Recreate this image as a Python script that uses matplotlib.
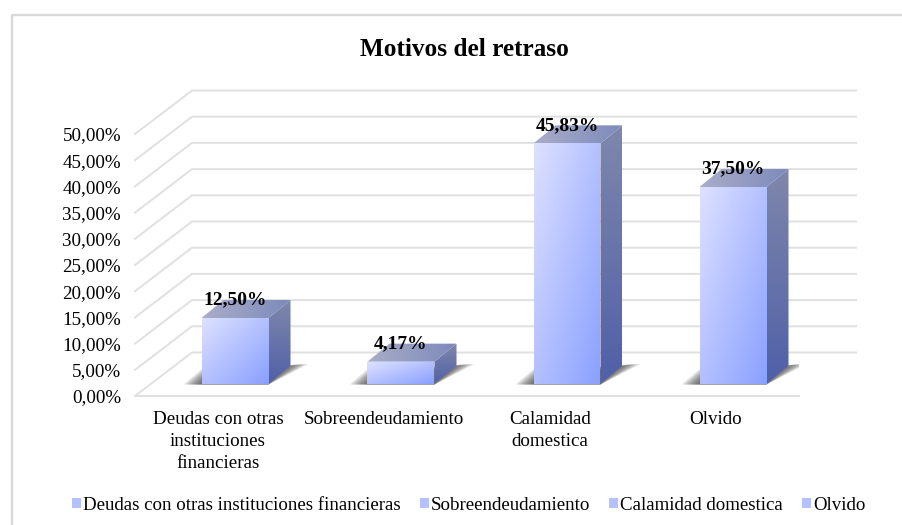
import numpy as np
import matplotlib
matplotlib.use("Agg")
import matplotlib.pyplot as plt
from matplotlib.colors import to_rgb
from matplotlib.patches import Patch, Polygon, Rectangle
from matplotlib.legend_handler import HandlerPatch

categories = ["Deudas con otras instituciones financieras", "Sobreendeudamiento",
              "Calamidad domestica", "Olvido"]
axis_labels = ["Deudas con otras\ninstituciones\nfinancieras", "Sobreendeudamiento",
               "Calamidad\ndomestica", "Olvido"]
values = [12.50, 4.17, 45.83, 37.50]
y_ticks = [0, 5, 10, 15, 20, 25, 30, 35, 40, 45, 50]

W, H = 903, 525
plt.rcParams["font.family"] = ["Liberation Serif", "DejaVu Serif"]
fig = plt.figure(figsize=(W / 100, H / 100), dpi=100, facecolor="white")

# plot area (front plane of the 3D box)
L, R, B, T = 135, 799, 396, 134
ax = fig.add_axes([L / W, 1 - B / H, (R - L) / W, (B - T) / H])
ax.set_xlim(-0.5, 3.5)
ax.set_ylim(0, 50)
ax.patch.set_alpha(0)
for s in ax.spines.values():
    s.set_visible(False)

PX = (3.5 + 0.5) / (R - L)      # data units per pixel, x
PY = 50 / (B - T)               # data units per pixel, y
GRID = "#e0e0e0"

# frame of the chart, open to the right and bottom edges of the picture
fig.add_artist(plt.Line2D([12.5 / W, 12.5 / W, 1], [0, 1 - 14.5 / H, 1 - 14.5 / H],
                          color="#d9d9d9", lw=1.7, transform=fig.transFigure))

# walls: diagonals on the side wall and lines on the back wall
wall_dx, wall_dy = 57 * PX, 43.5 * PY
x_left, x_right = ax.get_xlim()
for t in y_ticks:
    ax.plot([x_left, x_left + wall_dx, x_right + wall_dx], [t, t + wall_dy, t + wall_dy],
            color=GRID, lw=1.4, clip_on=False, zorder=1, solid_joinstyle="miter")
ax.plot([x_left, x_right], [0, 0], color=GRID, lw=1.4, clip_on=False, zorder=1)


def grad(c0, c1, mode):
    c0, c1 = np.array(to_rgb(c0)), np.array(to_rgb(c1))
    u, v = np.meshgrid(np.linspace(0, 1, 64), np.linspace(0, 1, 64))
    t = {"diag": (u + v) / 2, "h": u, "v": v}[mode]
    return c0 + (c1 - c0) * t[..., None]


def face(verts, c0, c1, mode, z):
    verts = np.array(verts)
    poly = Polygon(verts, closed=True, transform=ax.transData, fc="none", ec="none")
    ax.add_patch(poly)
    im = ax.imshow(grad(c0, c1, mode), aspect="auto", interpolation="bilinear",
                   extent=(verts[:, 0].min(), verts[:, 0].max(),
                           verts[:, 1].min(), verts[:, 1].max()),
                   origin="upper", zorder=z)
    im.set_clip_box(fig.bbox)
    im.set_clip_path(poly)


bar_w = 67 * PX
off_x, off_y = 17 * PX, 12.5 * PY       # bars stand part-way into the floor
dep_x, dep_y = 22 * PX, 18 * PY         # bar depth

for i, v in enumerate(values):
    x0 = i + off_x - bar_w / 2
    x1 = x0 + bar_w
    y0 = off_y
    top = y0 + v
    # floor shadow, soft edge built from stacked layers
    for e in range(18, 0, -2):
        ax.add_patch(Polygon([(x0 - e * PX, y0 - 1 * PY), (x1, y0 - 1 * PY),
                              (x1 + dep_x + e * PX, y0 + dep_y + 1.5 * PY),
                              (x1 + dep_x, y0 + dep_y), (x0, y0 + e * 0.8 * PY)],
                             closed=True, fc="#404040", ec="none", alpha=0.13, zorder=2))
    # right side, top, front
    face([(x1, y0), (x1 + dep_x, y0 + dep_y), (x1 + dep_x, top + dep_y), (x1, top)],
         "#7f87ab", "#5060a8", "v", 3)
    face([(x0, top), (x1, top), (x1 + dep_x, top + dep_y), (x0 + dep_x, top + dep_y)],
         "#a9adc9", "#7d8abb", "h", 3)
    face([(x0, y0), (x1, y0), (x1, top), (x0, top)], "#dde1ff", "#8aa0ff", "diag", 4)
    ax.text(i + off_x, top + 3.4, f"{v:.2f}%".replace(".", ","), ha="center", va="center",
            fontsize=14, fontweight="bold", color="black", zorder=6)

ax.set_xlim(-0.5, 3.5)
ax.set_ylim(0, 50)

ax.set_yticks(y_ticks, [f"{t:.2f}%".replace(".", ",") for t in y_ticks])
ax.set_xticks(range(len(categories)), axis_labels)
ax.tick_params(axis="both", length=0, labelsize=13.7, colors="black")
ax.tick_params(axis="y", pad=10)
ax.tick_params(axis="x", pad=10.5)
for lab in ax.get_xticklabels():
    lab.set_linespacing(1.4)

fig.text(464.5 / W, 1 - 49.5 / H, "Motivos del retraso", ha="center", va="center",
         fontsize=18.2, fontweight="bold", color="black")


class SquareHandler(HandlerPatch):
    def create_artists(self, legend, orig, xd, yd, width, height, fontsize, trans):
        s = 6.5
        return [Rectangle((xd * -1 + width - s, height / 2 - s / 2), s, s,
                          fc=orig.get_facecolor(), ec="none", transform=trans)]


handles = [Patch(fc=c) for c in ["#b4c0ff"] * 4]
fig.legend(handles, categories, loc="center", bbox_to_anchor=(468.5 / W, 1 - 505 / H),
           ncol=4, frameon=False, fontsize=13.6, handlelength=0.5, handletextpad=0.1,
           columnspacing=1.0, borderpad=0, handler_map={Patch: SquareHandler()})

fig.savefig("out.png", dpi=100)
